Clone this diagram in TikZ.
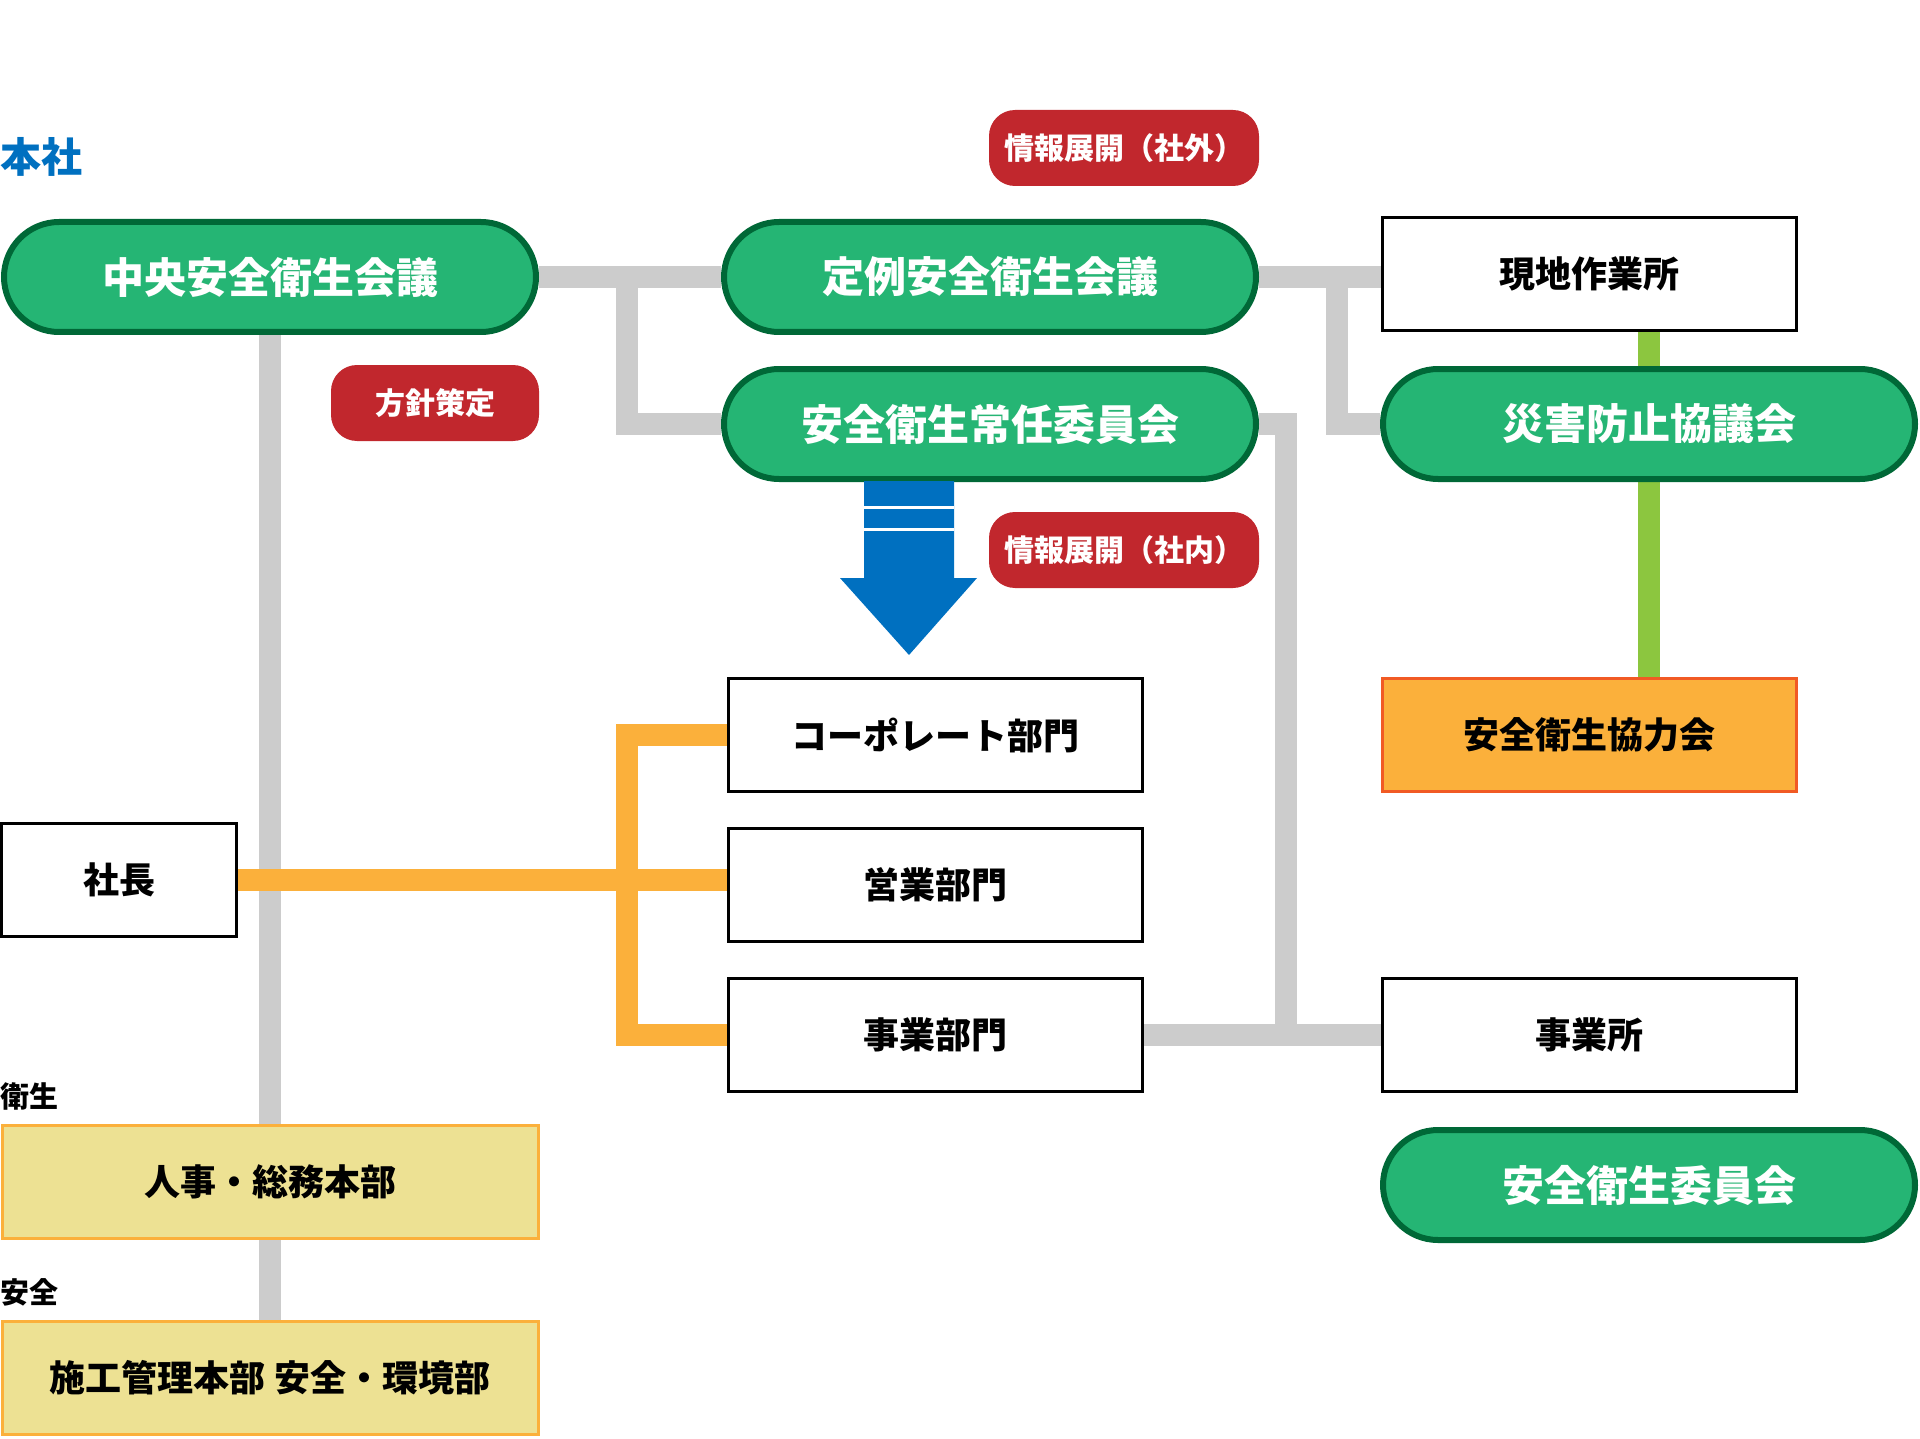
\documentclass[tikz,border=0pt]{standalone}
\usepackage{fontspec}
\setmainfont{Noto Sans CJK JP}
\usetikzlibrary{backgrounds}
\definecolor{pillfill}{HTML}{25B574}
\definecolor{pilldraw}{HTML}{006837}
\definecolor{redlab}{HTML}{C1272D}
\definecolor{conngray}{HTML}{CCCCCC}
\definecolor{hqblue}{HTML}{0070C0}
\definecolor{orangeln}{HTML}{FBB03B}
\definecolor{orangebd}{HTML}{F15A24}
\definecolor{khaki}{HTML}{EDE193}
\definecolor{greenln}{HTML}{8CC63F}
\tikzset{
  pill/.style={draw=pilldraw, fill=pillfill, line width=6pt, rounded corners=55pt,
    minimum width=532pt, minimum height=110pt, inner sep=0pt, text=white,
    font=\fontsize{42}{48}\selectfont\bfseries},
  redlabel/.style={fill=redlab, rounded corners=26pt, minimum height=76pt, inner sep=0pt,
    text=white, font=\fontsize{30}{34}\selectfont\bfseries},
  wbox/.style={draw=black, fill=white, line width=3pt, minimum width=414pt, minimum height=113pt,
    inner sep=0pt, font=\fontsize{36}{41}\selectfont\bfseries},
  kbox/.style={draw=orangeln, fill=khaki, line width=3pt, minimum width=536pt, minimum height=113pt,
    inner sep=0pt, font=\fontsize{36}{41}\selectfont\bfseries},
  obox/.style={draw=orangebd, fill=orangeln, line width=3pt, minimum width=414pt, minimum height=113pt,
    inner sep=0pt, font=\fontsize{36}{41}\selectfont\bfseries},
  grayln/.style={draw=conngray, line width=22pt},
  orangeconn/.style={draw=orangeln, line width=22pt},
  greenconn/.style={draw=greenln, line width=22pt},
  sidelabel/.style={anchor=west, inner sep=0pt, font=\fontsize{29}{34}\selectfont\bfseries}
}
\begin{document}
\begin{tikzpicture}[x=1pt,y=-1pt]
\useasboundingbox (0,0) rectangle (1920,1439);
% labels
\node[anchor=west, inner sep=0pt, text=hqblue, font=\fontsize{41}{46}\selectfont\bfseries] (honsha) at (0,157) {本社};
\node[sidelabel] (eisei) at (0,1096) {衛生};
\node[sidelabel] (anzen) at (0,1292) {安全};
% pills
\node[pill] (chuo) at (270,277) {中央安全衛生会議};
\node[pill] (teirei) at (990,277) {定例安全衛生会議};
\node[pill] (jonin) at (990,424) {安全衛生常任委員会};
\node[pill] (saigai) at (1649,424) {災害防止協議会};
\node[pill] (iinkai) at (1649,1185) {安全衛生委員会};
% red labels
\node[redlabel, minimum width=270pt] (gaibu) at (1124,148) {情報展開（社外）};
\node[redlabel, minimum width=208pt] (hoshin) at (435,403) {方針策定};
\node[redlabel, minimum width=270pt] (naibu) at (1124,550) {情報展開（社内）};
% boxes
\node[wbox] (genchi) at (1589,274) {現地作業所};
\node[obox] (kyoryoku) at (1589,735) {安全衛生協力会};
\node[wbox] (corp) at (935,735) {コーポレート部門};
\node[wbox] (eigyo) at (935,885) {営業部門};
\node[wbox] (jigyobu) at (935,1035) {事業部門};
\node[wbox] (jigyosho) at (1589,1035) {事業所};
\node[wbox, minimum width=235pt] (shacho) at (119,880) {社長};
\node[kbox] (jinji) at (270,1182) {人事・総務本部};
\node[kbox] (seko) at (270,1378) {施工管理本部 安全・環境部};
% junction coordinates
\coordinate (b1) at (627,277);
\coordinate (b2) at (1337,277);
\coordinate (b3) at (1286,1035);
\coordinate (ov) at (627,880);
% connectors
\begin{scope}[on background layer]
  \draw[grayln] (chuo.south) -- (seko.north);
  \draw[grayln] (chuo.east) -- (teirei.west);
  \draw[grayln] (b1) |- (jonin.west);
  \draw[grayln] (teirei.east) -- (teirei.east -| genchi.west);
  \draw[grayln] (b2) |- (saigai.west);
  \draw[grayln] (jonin.east) -| (b3);
  \draw[grayln] (jigyobu.east) -- (jigyosho.west);
  \draw[orangeconn] (shacho.east) -- (shacho.east -| eigyo.west);
  \draw[orangeconn] (corp.west) -| (ov) |- (jigyobu.west);
  \draw[greenconn] (saigai.north) -- (saigai.north |- genchi.south);
  \draw[greenconn] (saigai.south) -- (saigai.south |- kyoryoku.north);
\end{scope}
% blue arrow
\fill[hqblue] (864,481) -- (954,481) -- (954,578) -- (977,578) -- (909,655) -- (840,578) -- (864,578) -- cycle;
\draw[white, line width=3pt] (864,507) -- (954,507);
\draw[white, line width=3pt] (864,529) -- (954,529);
\end{tikzpicture}
\end{document}
